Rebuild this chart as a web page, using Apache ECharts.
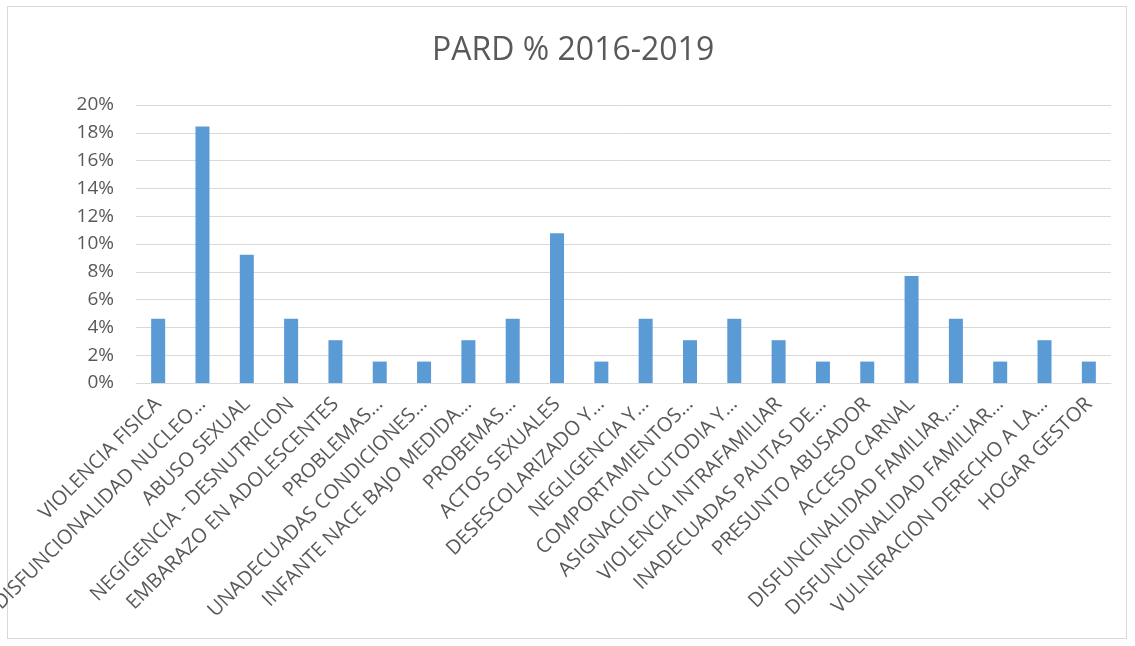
<!DOCTYPE html>
<html>
<head>
<meta charset="utf-8">
<script src="https://cdn.jsdelivr.net/npm/echarts@6/dist/echarts.min.js"></script>
<style>
  html, body { margin: 0; padding: 0; background: #fff; }
  #frame { position: absolute; left: 7px; top: 6px; width: 1120px; height: 633px; border: 1px solid #d9d9d9; box-sizing: border-box; }
  #main { position: absolute; left: 0; top: 0; width: 1135px; height: 646px; }
</style>
</head>
<body>
<div id="frame"></div>
<div id="main"></div>
<script>
var titleText = 'PARD % 2016-2019'
var categories = [
    'VIOLENCIA FISICA',
    'DISFUNCIONALIDAD NUCLEO…',
    'ABUSO SEXUAL',
    'NEGIGENCIA - DESNUTRICION',
    'EMBARAZO EN ADOLESCENTES',
    'PROBLEMAS…',
    'UNADECUADAS CONDICIONES…',
    'INFANTE NACE BAJO MEDIDA…',
    'PROBEMAS…',
    'ACTOS SEXUALES',
    'DESESCOLARIZADO Y…',
    'NEGLIGENCIA Y…',
    'COMPORTAMIENTOS…',
    'ASIGNACION CUTODIA Y…',
    'VIOLENCIA INTRAFAMILIAR',
    'INADECUADAS PAUTAS DE…',
    'PRESUNTO ABUSADOR',
    'ACCESO CARNAL',
    'DISFUNCINALIDAD FAMILIAR,…',
    'DISFUNCIONALIDAD FAMILIAR…',
    'VULNERACION DERECHO A LA…',
    'HOGAR GESTOR'
]
// porcentaje de casos
var values = [4.62, 18.46, 9.23, 4.62, 3.08, 1.54, 1.54, 3.08, 4.62, 10.77, 1.54,
              4.62, 3.08, 4.62, 3.08, 1.54, 1.54, 7.69, 4.62, 1.54, 3.08, 1.54]
var yMin = 0, yMax = 20, yStep = 2

var font = 'Open Sans'
var grey = '#595959'

var myChart = echarts.init(document.getElementById('main'))

var option = {
    animation: false,
    title: {
        text: titleText,
        left: 427,
        top: 30,
        textStyle: { fontFamily: font, fontSize: 32, fontWeight: 'normal', color: grey }
    },
    grid: { left: 136, right: 24, top: 105, bottom: 263, containLabel: false, outerBoundsMode: 'none' },
    xAxis: {
        type: 'category',
        data: categories,
        axisLine: { lineStyle: { color: '#d9d9d9', width: 1 } },
        axisTick: { show: false },
        axisLabel: {
            interval: 0,
            rotate: 45,
            margin: 18,
            fontFamily: font,
            fontSize: 20,
            color: grey
        }
    },
    yAxis: {
        type: 'value',
        min: yMin,
        max: yMax,
        interval: yStep,
        axisLine: { show: false },
        axisTick: { show: false },
        splitLine: { lineStyle: { color: '#d9d9d9', width: 1 } },
        axisLabel: {
            margin: 22,
            fontFamily: font,
            fontSize: 19,
            color: grey,
            formatter: '{value}%'
        }
    },
    series: [{
        type: 'bar',
        data: values,
        barWidth: 14,
        itemStyle: { color: '#5b9bd5' }
    }]
}

myChart.setOption(option)
</script>
</body>
</html>
